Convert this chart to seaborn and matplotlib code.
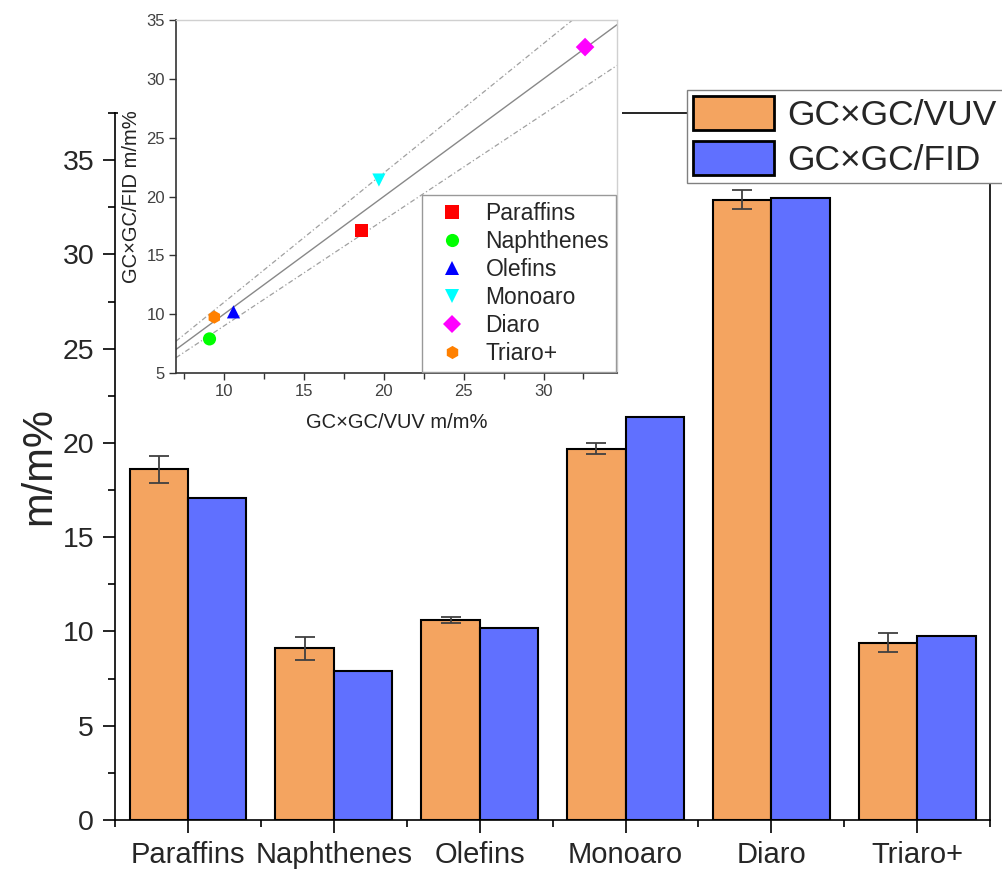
import numpy as np
import pandas as pd
import matplotlib
matplotlib.use("Agg")
import matplotlib.pyplot as plt
from matplotlib.ticker import MultipleLocator
from matplotlib.patches import Rectangle
import seaborn as sns

# data
groups = ["Paraffins", "Naphthenes", "Olefins", "Monoaro", "Diaro", "Triaro+"]
methods = ["GC×GC/VUV", "GC×GC/FID"]
vuv = [18.6, 9.1, 10.6, 19.7, 32.9, 9.4]
vuv_err = [0.7, 0.6, 0.15, 0.3, 0.5, 0.5]
fid = [17.1, 7.9, 10.2, 21.4, 33.0, 9.75]

# inset parity plot
inset_x = [18.6, 9.1, 10.6, 19.7, 32.6, 9.4]
inset_y = [17.1, 7.9, 10.2, 21.4, 32.7, 9.75]
ref_slopes = [1.0, 1.1, 0.9]  # 1:1 line and +/-10 %

bar_colors = {"GC×GC/VUV": "#F4A460", "GC×GC/FID": "#6070FF"}
pt_colors = {"Paraffins": "#FF0000", "Naphthenes": "#00FF00", "Olefins": "#0000FF",
             "Monoaro": "#00FFFF", "Diaro": "#FF00FF", "Triaro+": "#FF8000"}
pt_markers = {"Paraffins": "s", "Naphthenes": "o", "Olefins": "^",
              "Monoaro": "v", "Diaro": "D", "Triaro+": "h"}

sns.set_style("ticks")
plt.rcParams["font.family"] = ["Liberation Sans", "DejaVu Sans"]

df = pd.DataFrame({
    "group": groups * 2,
    "method": [methods[0]] * 6 + [methods[1]] * 6,
    "value": vuv + fid,
})

fig = plt.figure(figsize=(10.02, 8.73), dpi=100)
ax = fig.add_axes([0.1148, 0.0607, 0.8734, 0.8099])

sns.barplot(data=df, x="group", y="value", hue="method", palette=bar_colors,
            saturation=1, edgecolor="black", linewidth=1.5, errorbar=None,
            width=0.8, ax=ax)

# error bars on the VUV bars only
vuv_bars = ax.containers[0]
xs = [p.get_x() + p.get_width() / 2 for p in vuv_bars]
ax.errorbar(xs, vuv, yerr=vuv_err, fmt="none", ecolor="#404040",
            elinewidth=1.3, capsize=7, capthick=1.3, zorder=5)

ax.set_xlim(-0.5, 5.5)
ax.set_ylim(0, 37.5)
ax.yaxis.set_major_locator(MultipleLocator(5))
ax.yaxis.set_minor_locator(MultipleLocator(2.5))
ax.set_xticks(range(6))
ax.set_xticks(np.arange(-0.5, 6, 1), minor=True)
ax.tick_params(axis="both", which="major", direction="out", length=9, width=1.2,
               color="black", pad=6)
ax.tick_params(axis="both", which="minor", direction="out", length=5, width=1.2,
               color="black")
ax.tick_params(axis="x", labelsize=21)
ax.tick_params(axis="y", labelsize=20.5)
ax.set_xlabel("")
ax.set_ylabel("m/m%", fontsize=30, labelpad=2)
for s in ax.spines.values():
    s.set_visible(True)
    s.set_linewidth(1.2)
    s.set_color("black")

sns.move_legend(ax, "upper left", bbox_to_anchor=(687 / 1002, 1 - 90 / 873),
                bbox_transform=fig.transFigure, title=None, fontsize=25.5,
                frameon=True, fancybox=False, framealpha=1, edgecolor="#808080",
                borderaxespad=0, borderpad=0.17, handlelength=2.3,
                handleheight=1.1, handletextpad=0.37, labelspacing=0.25)
leg = ax.get_legend()
for h in leg.legend_handles:
    h.set_edgecolor("black")
    h.set_linewidth(2)

# white layer behind the inset, hides the main frame under it
fig.patches.append(Rectangle((118 / 1002, 1 - 440 / 873), 504 / 1002, 440 / 873,
                             transform=fig.transFigure, facecolor="white",
                             edgecolor="none", zorder=0.5))

# inset
axin = fig.add_axes([0.1756, 0.5727, 0.4402, 0.4044])
axin.set_zorder(1)
axin.set_facecolor("white")
xr = np.array([7, 34.6])
for k, sl in enumerate(ref_slopes):
    if k == 0:
        axin.plot(xr, sl * xr, color="#888888", lw=1.0, zorder=1)
    else:
        axin.plot(xr, sl * xr, color="#a0a0a0", lw=0.9, ls=(0, (4, 2, 1, 2)), zorder=1)

idf = pd.DataFrame({"group": groups, "vuv": inset_x, "fid": inset_y})
sns.scatterplot(data=idf, x="vuv", y="fid", hue="group", style="group",
                palette=pt_colors, markers=pt_markers, s=90, linewidth=0,
                ax=axin, zorder=3)
axin.set_xlim(7, 34.6)
axin.set_ylim(5, 35)
axin.xaxis.set_major_locator(MultipleLocator(5))
axin.xaxis.set_minor_locator(MultipleLocator(2.5))
axin.yaxis.set_major_locator(MultipleLocator(5))
axin.tick_params(which="major", direction="out", length=5, width=1, color="#333333",
                 labelsize=12, labelcolor="#404040", pad=3)
axin.tick_params(which="minor", direction="out", length=4, width=1, color="#333333")
axin.set_xlabel("GC×GC/VUV m/m%", fontsize=14.5, color="#222222", labelpad=10)
axin.set_ylabel("GC×GC/FID m/m%", fontsize=14.5, color="#222222", labelpad=4)
for side in ["left", "bottom"]:
    axin.spines[side].set_color("#333333")
    axin.spines[side].set_linewidth(1.2)
for side in ["top", "right"]:
    axin.spines[side].set_visible(True)
    axin.spines[side].set_color("#d0d0d0")
    axin.spines[side].set_linewidth(1)

sns.move_legend(axin, "lower right", title=None, fontsize=16.5, frameon=True,
                fancybox=False, framealpha=1, edgecolor="#999999",
                borderaxespad=0.05, borderpad=0.3, handletextpad=0.45,
                labelspacing=0.22, markerscale=1.0)

fig.savefig("out.png", dpi=100)
